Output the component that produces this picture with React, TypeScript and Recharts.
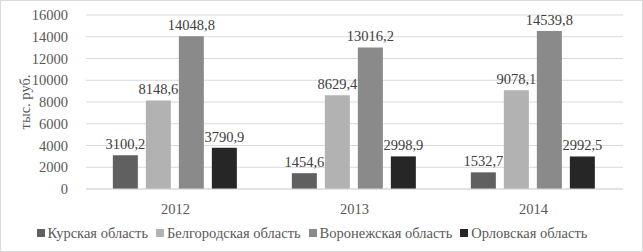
import React from "react";
import {
  BarChart,
  Bar,
  XAxis,
  YAxis,
  CartesianGrid,
  Legend,
  LabelList,
} from "recharts";

const years = ["2012", "2013", "2014"];
const kursk = [3100.2, 1454.6, 1532.7];
const belgorod = [8148.6, 8629.4, 9078.1];
const voronezh = [14048.8, 13016.2, 14539.8];
const orel = [3790.9, 2998.9, 2992.5];
const yTicks = [0, 2000, 4000, 6000, 8000, 10000, 12000, 14000, 16000];

const data = years.map((year, i) => ({
  year,
  kursk: kursk[i],
  belgorod: belgorod[i],
  voronezh: voronezh[i],
  orel: orel[i],
}));

const series = [
  { key: "kursk", name: "Курская область", color: "#606060" },
  { key: "belgorod", name: "Белгородская область", color: "#b2b2b2" },
  { key: "voronezh", name: "Воронежская область", color: "#8a8a8a" },
  { key: "orel", name: "Орловская область", color: "#262626" },
];

const font = "'Liberation Serif', 'Times New Roman', serif";
const fs = 14.5;
const fmt = (v: any) => String(v).replace(".", ",");

// legend in series order (recharts sorts by name otherwise)
const LegendContent = () => (
  <div
    style={{
      display: "flex",
      justifyContent: "center",
      alignItems: "center",
      height: 28,
      fontSize: fs,
      fontFamily: font,
      color: "#595959",
    }}
  >
    {series.map((s, i) => (
      <span
        key={s.key}
        style={{ display: "flex", alignItems: "center", marginLeft: i ? 8 : 0 }}
      >
        <span
          style={{
            display: "inline-block",
            width: 8,
            height: 8,
            background: s.color,
            marginRight: 3,
          }}
        />
        {s.name}
      </span>
    ))}
  </div>
);

export default function App() {
  return (
    <div
      style={{
        position: "absolute",
        left: 0,
        top: 0,
        width: 641,
        height: 250,
        border: "1px solid #d9d9d9",
        background: "#fff",
        fontFamily: font,
      }}
    >
      <BarChart
        width={641}
        height={250}
        data={data}
        margin={{ top: 14, right: 19, left: 0, bottom: 4 }}
        barGap={8}
        barCategoryGap="15%"
      >
        <CartesianGrid vertical={false} stroke="#d9d9d9" />
        <XAxis
          dataKey="year"
          axisLine={{ stroke: "#d9d9d9" }}
          tickLine={false}
          tick={{ fill: "#595959", fontSize: fs, fontFamily: font }}
          tickMargin={9}
          height={30}
        />
        <YAxis
          width={85}
          domain={[0, 16000]}
          ticks={yTicks}
          interval={0}
          axisLine={false}
          tickLine={false}
          tickMargin={12}
          tick={{ fill: "#595959", fontSize: fs, fontFamily: font }}
          label={{
            value: "тыс. руб.",
            angle: -90,
            position: "insideLeft",
            offset: 24,
            style: { fill: "#595959", fontSize: fs, fontFamily: font, textAnchor: "middle" },
          }}
        />
        <Legend verticalAlign="bottom" height={28} content={<LegendContent />} />
        {series.map((s) => (
          <Bar
            key={s.key}
            dataKey={s.key}
            name={s.name}
            fill={s.color}
            isAnimationActive={false}
          >
            <LabelList
              dataKey={s.key}
              position="top"
              offset={6}
              formatter={fmt}
              style={{ fill: "#404040", fontSize: fs, fontFamily: font }}
            />
          </Bar>
        ))}
      </BarChart>
    </div>
  );
}
